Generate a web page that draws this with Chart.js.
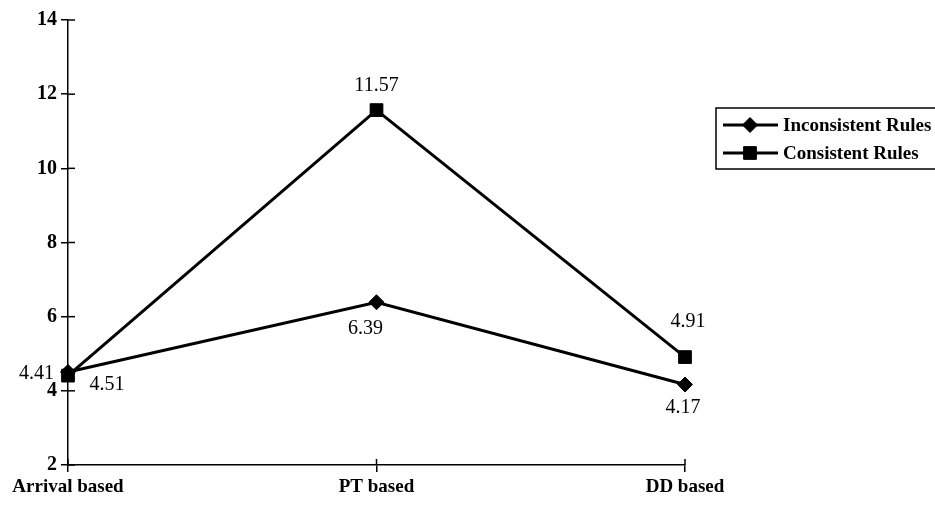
<!DOCTYPE html>
<html>
<head>
<meta charset="utf-8">
<script src="https://cdn.jsdelivr.net/npm/chart.js@4.4.0/dist/chart.umd.min.js"></script>
<style>
  html, body { margin: 0; padding: 0; background: #fff; }
  #wrap { width: 935px; height: 508px; }
</style>
</head>
<body>
<div id="wrap"><canvas id="chart" width="935" height="508"></canvas></div>
<script>
// Data
const categories = ['Arrival based', 'PT based', 'DD based'];
const inconsistentRules = [4.51, 6.39, 4.17];
const consistentRules = [4.41, 11.57, 4.91];
const yTicks = [2, 4, 6, 8, 10, 12, 14];

// where each value label sits relative to its point
const labelOffsets = {
    inconsistent: [{ dx: 39, dy: 13, align: 'center' }, { dx: -11, dy: 27, align: 'center' }, { dx: -2, dy: 23, align: 'center' }],
    consistent: [{ dx: -14, dy: -2, align: 'right' }, { dx: 0, dy: -24, align: 'center' }, { dx: 3, dy: -35, align: 'center' }]
};

const serif = '"Liberation Serif", "Times New Roman", serif';

// tick marks that cross the axes, value labels and the boxed legend
const extrasPlugin = {
    id: 'extras',
    afterDraw(chart) {
        const ctx = chart.ctx;
        const x = chart.scales.x, y = chart.scales.y;
        const area = chart.chartArea;
        ctx.save();
        ctx.strokeStyle = '#000';
        ctx.lineWidth = 1.5;
        // inner half of the tick marks
        yTicks.forEach(v => {
            const py = y.getPixelForValue(v);
            ctx.beginPath(); ctx.moveTo(area.left, py); ctx.lineTo(area.left + 7, py); ctx.stroke();
        });
        categories.forEach((c, i) => {
            const px = x.getPixelForValue(i);
            ctx.beginPath(); ctx.moveTo(px, area.bottom); ctx.lineTo(px, area.bottom - 6); ctx.stroke();
        });

        // value labels
        ctx.fillStyle = '#000';
        ctx.font = '20px ' + serif;
        ctx.textBaseline = 'middle';
        const sets = [['consistent', 0, consistentRules], ['inconsistent', 1, inconsistentRules]];
        sets.forEach(([key, idx, values]) => {
            const meta = chart.getDatasetMeta(idx);
            meta.data.forEach((pt, i) => {
                const o = labelOffsets[key][i];
                ctx.textAlign = o.align;
                ctx.fillText(values[i].toFixed(2), pt.x + o.dx, pt.y + o.dy);
            });
        });

        // legend
        ctx.lineWidth = 1.5;
        ctx.strokeRect(716, 108, 260, 61);
        const rows = [
            { text: 'Inconsistent Rules', style: 'rectRot', radius: 7.5, y: 125 },
            { text: 'Consistent Rules', style: 'rect', radius: 9, y: 153 }
        ];
        ctx.font = 'bold 19px ' + serif;
        ctx.textAlign = 'left';
        rows.forEach(r => {
            ctx.lineWidth = 3;
            ctx.beginPath(); ctx.moveTo(723, r.y); ctx.lineTo(778, r.y); ctx.stroke();
            ctx.lineWidth = 1;
            Chart.helpers.drawPoint(ctx, { pointStyle: r.style, radius: r.radius, rotation: 0, borderWidth: 1 }, 750, r.y);
            ctx.fillText(r.text, 783, r.y + 1);
        });
        ctx.restore();
    }
};

new Chart(document.getElementById('chart').getContext('2d'), {
    type: 'line',
    data: {
        labels: categories,
        datasets: [
            {
                label: 'Consistent Rules', data: consistentRules, order: 0,
                borderColor: '#000', backgroundColor: '#000', borderWidth: 3,
                pointStyle: 'rect', pointRadius: 9, pointBorderWidth: 1, pointBorderColor: '#000',
                pointBackgroundColor: '#000', tension: 0, clip: false
            },
            {
                label: 'Inconsistent Rules', data: inconsistentRules, order: 1,
                borderColor: '#000', backgroundColor: '#000', borderWidth: 3,
                pointStyle: 'rectRot', pointRadius: 7.5, pointBorderWidth: 1, pointBorderColor: '#000',
                pointBackgroundColor: '#000', tension: 0, clip: false
            }
        ]
    },
    options: {
        responsive: false,
        animation: false,
        layout: { padding: { left: 0, right: 250, top: 20, bottom: 0 } },
        plugins: { legend: { display: false }, tooltip: { enabled: false } },
        scales: {
            x: {
                offset: false,
                grid: { drawOnChartArea: false, tickLength: 7, color: '#000', lineWidth: 1.5 },
                border: { color: '#000', width: 1.5 },
                ticks: { color: '#000', font: { family: serif, size: 19, weight: 'bold' }, padding: 4, maxRotation: 0, autoSkip: false },
                afterFit: s => { s.height = 43; }
            },
            y: {
                min: 2, max: 14,
                afterBuildTicks: s => { s.ticks = yTicks.map(v => ({ value: v })); },
                grid: { drawOnChartArea: false, tickLength: 7, color: '#000', lineWidth: 1.5 },
                border: { color: '#000', width: 1.5 },
                ticks: { color: '#000', font: { family: serif, size: 20, weight: 'bold' }, padding: 4 },
                afterFit: s => { s.width = 68; }
            }
        }
    },
    plugins: [extrasPlugin]
});
</script>
</body>
</html>
